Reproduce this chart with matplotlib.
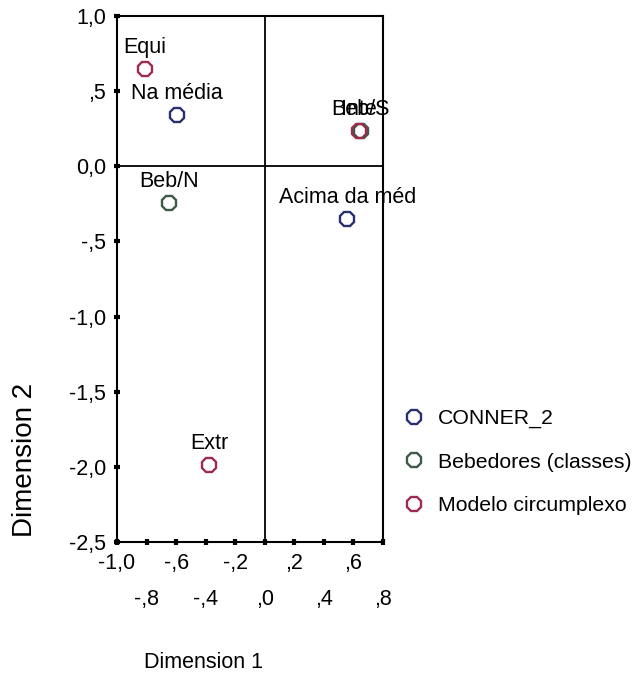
import matplotlib
matplotlib.use("Agg")
import matplotlib.pyplot as plt
from matplotlib.ticker import FixedLocator, FixedFormatter

plt.rcParams['font.family'] = ['Liberation Sans', 'DejaVu Sans']

# Data
series_names = ["CONNER_2", "Bebedores (classes)", "Modelo circumplexo"]
series_colors = ["#28306e", "#3d5a48", "#9e2a4e"]

conner_labels = ["Na média", "Acima da méd"]
conner_x = [-0.592, 0.558]
conner_y = [0.341, -0.351]

beb_labels = ["Beb/N", "Beb/S"]
beb_x = [-0.648, 0.650]
beb_y = [-0.246, 0.238]

circ_labels = ["Equi", "Inte", "Extr"]
circ_x = [-0.811, 0.640, -0.376]
circ_y = [0.647, 0.232, -1.987]

xticks_major = [-1.0, -0.6, -0.2, 0.2, 0.6]
xticks_major_labels = ["-1,0", "-,6", "-,2", ",2", ",6"]
xticks_minor = [-0.8, -0.4, 0.0, 0.4, 0.8]
xticks_minor_labels = ["-,8", "-,4", ",0", ",4", ",8"]
yticks = [1.0, 0.5, 0.0, -0.5, -1.0, -1.5, -2.0, -2.5]
ytick_labels = ["1,0", ",5", "0,0", "-,5", "-1,0", "-1,5", "-2,0", "-2,5"]

W, H = 643, 681
fig = plt.figure(figsize=(W / 100, H / 100), dpi=100)
ax = fig.add_axes([117 / W, 1 - 542 / H, (383 - 117) / W, (542 - 16) / H])

ax.set_xlim(-1.0, 0.8)
ax.set_ylim(-2.5, 1.0)

ax.axvline(0, color='black', lw=1.3, zorder=1)
ax.axhline(0, color='black', lw=1.3, zorder=1)

series = [
    (conner_labels, conner_x, conner_y),
    (beb_labels, beb_x, beb_y),
    (circ_labels, circ_x, circ_y),
]
handles = []
for (labels, xs, ys), name, col in zip(series, series_names, series_colors):
    h, = ax.plot(xs, ys, linestyle='none', marker='8', markersize=11,
                 markerfacecolor='none', markeredgecolor=col,
                 markeredgewidth=1.7, label=name, zorder=3)
    handles.append(h)
    for lab, x, y in zip(labels, xs, ys):
        ax.annotate(lab, (x, y), xytext=(0, 11.5), textcoords='offset points',
                    ha='center', va='baseline', fontsize=15.5, color='black',
                    zorder=4)

for s in ax.spines.values():
    s.set_linewidth(1.5)

ax.yaxis.set_major_locator(FixedLocator(yticks))
ax.yaxis.set_major_formatter(FixedFormatter(ytick_labels))
ax.xaxis.set_major_locator(FixedLocator(xticks_major))
ax.xaxis.set_major_formatter(FixedFormatter(xticks_major_labels))
ax.xaxis.set_minor_locator(FixedLocator(xticks_minor))
ax.xaxis.set_minor_formatter(FixedFormatter(xticks_minor_labels))

ax.tick_params(axis='y', which='major', direction='inout', length=4, width=3,
               labelsize=15.5, pad=6)
ax.tick_params(axis='x', which='major', direction='inout', length=4, width=3,
               labelsize=15.5, pad=6)
ax.tick_params(axis='x', which='minor', direction='inout', length=4, width=3,
               labelsize=15.5, pad=32)

fig.text(25 / W, 1 - 460 / H, "Dimension 2", rotation=90, ha='center',
         va='center', fontsize=20)
fig.text(203 / W, 1 - 663 / H, "Dimension 1", ha='center', va='center',
         fontsize=15.5)

leg = fig.legend(handles=handles, loc='center left',
                 bbox_to_anchor=(403 / W, 1 - 462 / H), frameon=False,
                 borderpad=0, borderaxespad=0, handlelength=1.0,
                 handletextpad=0.65, labelspacing=1.15, fontsize=15.3,
                 numpoints=1)

fig.savefig("out.png", dpi=100)
